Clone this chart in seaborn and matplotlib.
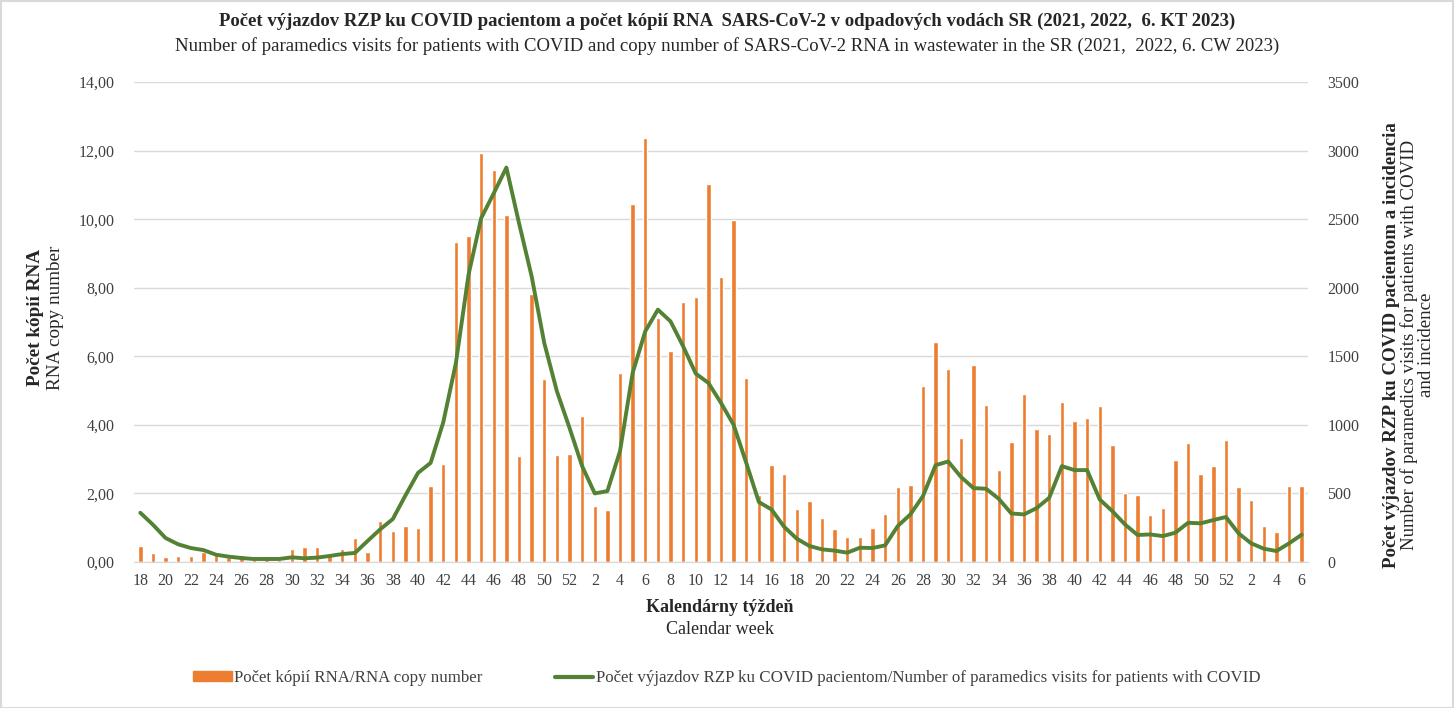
import numpy as np
import pandas as pd
import matplotlib
matplotlib.use("Agg")
import matplotlib.pyplot as plt
import seaborn as sns
from matplotlib.patches import Rectangle, Patch
from matplotlib.lines import Line2D
from matplotlib.ticker import FuncFormatter, MultipleLocator

# Kalendarne tyzdne: 2021 (18-52), 2022 (1-52), 2023 (1-6)
tyzdne_2021 = list(range(18, 53))
tyzdne_2022 = list(range(1, 53))
tyzdne_2023 = list(range(1, 7))

# Pocet kopii RNA (lava os)
rna_2021 = [0.47, 0.25, 0.16, 0.17, 0.17, 0.30, 0.20, 0.15, 0.20, 0.08,
            0.17, 0.06, 0.37, 0.45, 0.45, 0.20, 0.39, 0.71, 0.29, 1.20,
            0.89, 1.05, 0.99, 2.23, 2.85, 9.34, 9.52, 11.93, 11.44, 10.13,
            3.10, 7.82, 5.35, 3.12, 3.14]
rna_2022 = [4.27, 1.63, 1.52, 5.50, 10.44, 12.38, 7.11, 6.14, 7.58, 7.74,
            11.02, 8.32, 9.97, 5.38, 1.94, 2.83, 2.57, 1.56, 1.79, 1.28,
            0.95, 0.74, 0.74, 1.00, 1.40, 2.18, 2.26, 5.12, 6.41, 5.64,
            3.63, 5.75, 4.59, 2.68, 3.50, 4.89, 3.88, 3.73, 4.68, 4.11,
            4.19, 4.56, 3.42, 2.02, 1.95, 1.37, 1.57, 2.97, 3.47, 2.57,
            2.79, 3.55]
rna_2023 = [2.18, 1.80, 1.05, 0.87, 2.21, 2.21]

# Pocet vyjazdov RZP ku COVID pacientom (prava os)
rzp_2021 = [359, 272, 175, 129, 102, 87, 53, 39, 29, 22,
            22, 22, 34, 27, 32, 44, 58, 66, 153, 238,
            313, 485, 650, 723, 1019, 1451, 2095, 2507, 2689, 2876,
            2471, 2083, 1597, 1245, 978]
rzp_2022 = [699, 500, 517, 808, 1379, 1682, 1840, 1755, 1573, 1374,
            1306, 1160, 1000, 723, 437, 383, 257, 170, 117, 92,
            83, 68, 104, 102, 121, 262, 347, 481, 706, 733,
            621, 539, 534, 461, 354, 347, 393, 468, 699, 670,
            670, 456, 371, 274, 197, 201, 189, 214, 286, 282,
            306, 328]
rzp_2023 = [209, 136, 97, 80, 136, 199]

tyzdne = tyzdne_2021 + tyzdne_2022 + tyzdne_2023
df = pd.DataFrame({
    "idx": np.arange(len(tyzdne)),
    "tyzden": tyzdne,
    "rna": rna_2021 + rna_2022 + rna_2023,
    "rzp": rzp_2021 + rzp_2022 + rzp_2023,
})

sns.set_style("white")
plt.rcParams["font.family"] = ["Liberation Serif", "DejaVu Serif"]

W, H = 1454, 708
fig = plt.figure(figsize=(W / 100, H / 100), dpi=100)
ax = fig.add_axes([134 / W, 1 - 562 / H, (1308 - 134) / W, (562 - 82) / H])

oranzova = "#ED7D31"
zelena = "#548235"
seda = "#D9D9D9"

sns.barplot(data=df, x="idx", y="rna", color=oranzova, width=0.35,
            saturation=1, ax=ax, zorder=2)
ax.set_ylim(0, 14)
ax.yaxis.set_major_locator(MultipleLocator(2))
ax.yaxis.set_major_formatter(FuncFormatter(lambda v, p: f"{v:.2f}".replace(".", ",")))
ax.set_xlim(-0.5, len(df) - 0.5)
ax.grid(axis="y", color=seda, linewidth=1, zorder=0)
ax.set_axisbelow(True)
ax.set_xlabel("")
ax.set_ylabel("")
ax.set_xticks(df["idx"][::2])
ax.set_xticklabels(df["tyzden"][::2].astype(str))

ax2 = ax.twinx()
sns.lineplot(data=df, x="idx", y="rzp", color=zelena, linewidth=2.8, ax=ax2, zorder=3)
ax2.set_ylim(0, 3500)
ax2.yaxis.set_major_locator(MultipleLocator(500))
ax2.set_xlim(-0.5, len(df) - 0.5)
ax2.set_xlabel("")
ax2.set_ylabel("")

for a in (ax, ax2):
    for s in ["top", "left", "right"]:
        a.spines[s].set_visible(False)
    a.spines["bottom"].set_color(seda)
    a.tick_params(length=0, labelsize=11.5, colors="#404040")
ax.tick_params(axis="x", pad=8)
ax.tick_params(axis="y", pad=14)
ax2.tick_params(axis="y", pad=14)

# Titulky
fig.text(727 / W, 1 - 21 / H,
         "Počet výjazdov RZP ku COVID pacientom a počet kópií RNA  SARS-CoV-2 v odpadových vodách SR (2021, 2022,  6. KT 2023)",
         ha="center", va="center", fontsize=13.5, fontweight="bold")
fig.text(727 / W, 1 - 46 / H,
         "Number of paramedics visits for patients with COVID and copy number of SARS-CoV-2 RNA in wastewater in the SR (2021,  2022, 6. CW 2023)",
         ha="center", va="center", fontsize=13.5)

# Os x
fig.text(720 / W, 1 - 607 / H, "Kalendárny týždeň", ha="center", va="center",
         fontsize=13, fontweight="bold")
fig.text(720 / W, 1 - 630 / H, "Calendar week", ha="center", va="center", fontsize=13)

# Lava os y
fig.text(35 / W, 1 - 318 / H, "Počet kópií RNA", rotation=90, ha="center", va="center",
         fontsize=13.8, fontweight="bold")
fig.text(56 / W, 1 - 318 / H, "RNA copy number", rotation=90, ha="center", va="center",
         fontsize=13.8)

# Prava os y
fig.text(1391 / W, 1 - 345 / H, "Počet výjazdov RZP ku COVID pacientom a incidencia",
         rotation=90, ha="center", va="center", fontsize=13.6, fontweight="bold")
fig.text(1418 / W, 1 - 345 / H, "Number of paramedics visits for patients with COVID\nand incidence",
         rotation=90, ha="center", va="center", fontsize=13.6, multialignment="center",
         linespacing=1.0)

# Legenda
handles = [Patch(facecolor=oranzova, edgecolor=oranzova),
           Line2D([0], [0], color=zelena, linewidth=3)]
labels = ["Počet kópií RNA/RNA copy number",
          "Počet výjazdov RZP ku COVID pacientom/Number of paramedics visits for patients with COVID"]
fig.legend(handles, labels, loc="center", bbox_to_anchor=(727 / W, 1 - 678 / H), ncol=2,
           frameon=False, fontsize=12.2, columnspacing=4.3, handlelength=2.25,
           handleheight=0.5, handletextpad=0.15, labelcolor="#404040")

# Ramcek okolo grafu
fig.add_artist(Rectangle((0.5 / W, 0.5 / H), 1 - 1.5 / W, 1 - 1.5 / H, transform=fig.transFigure,
                         fill=False, edgecolor=seda, linewidth=1.5))

fig.savefig("out.png", dpi=100)
